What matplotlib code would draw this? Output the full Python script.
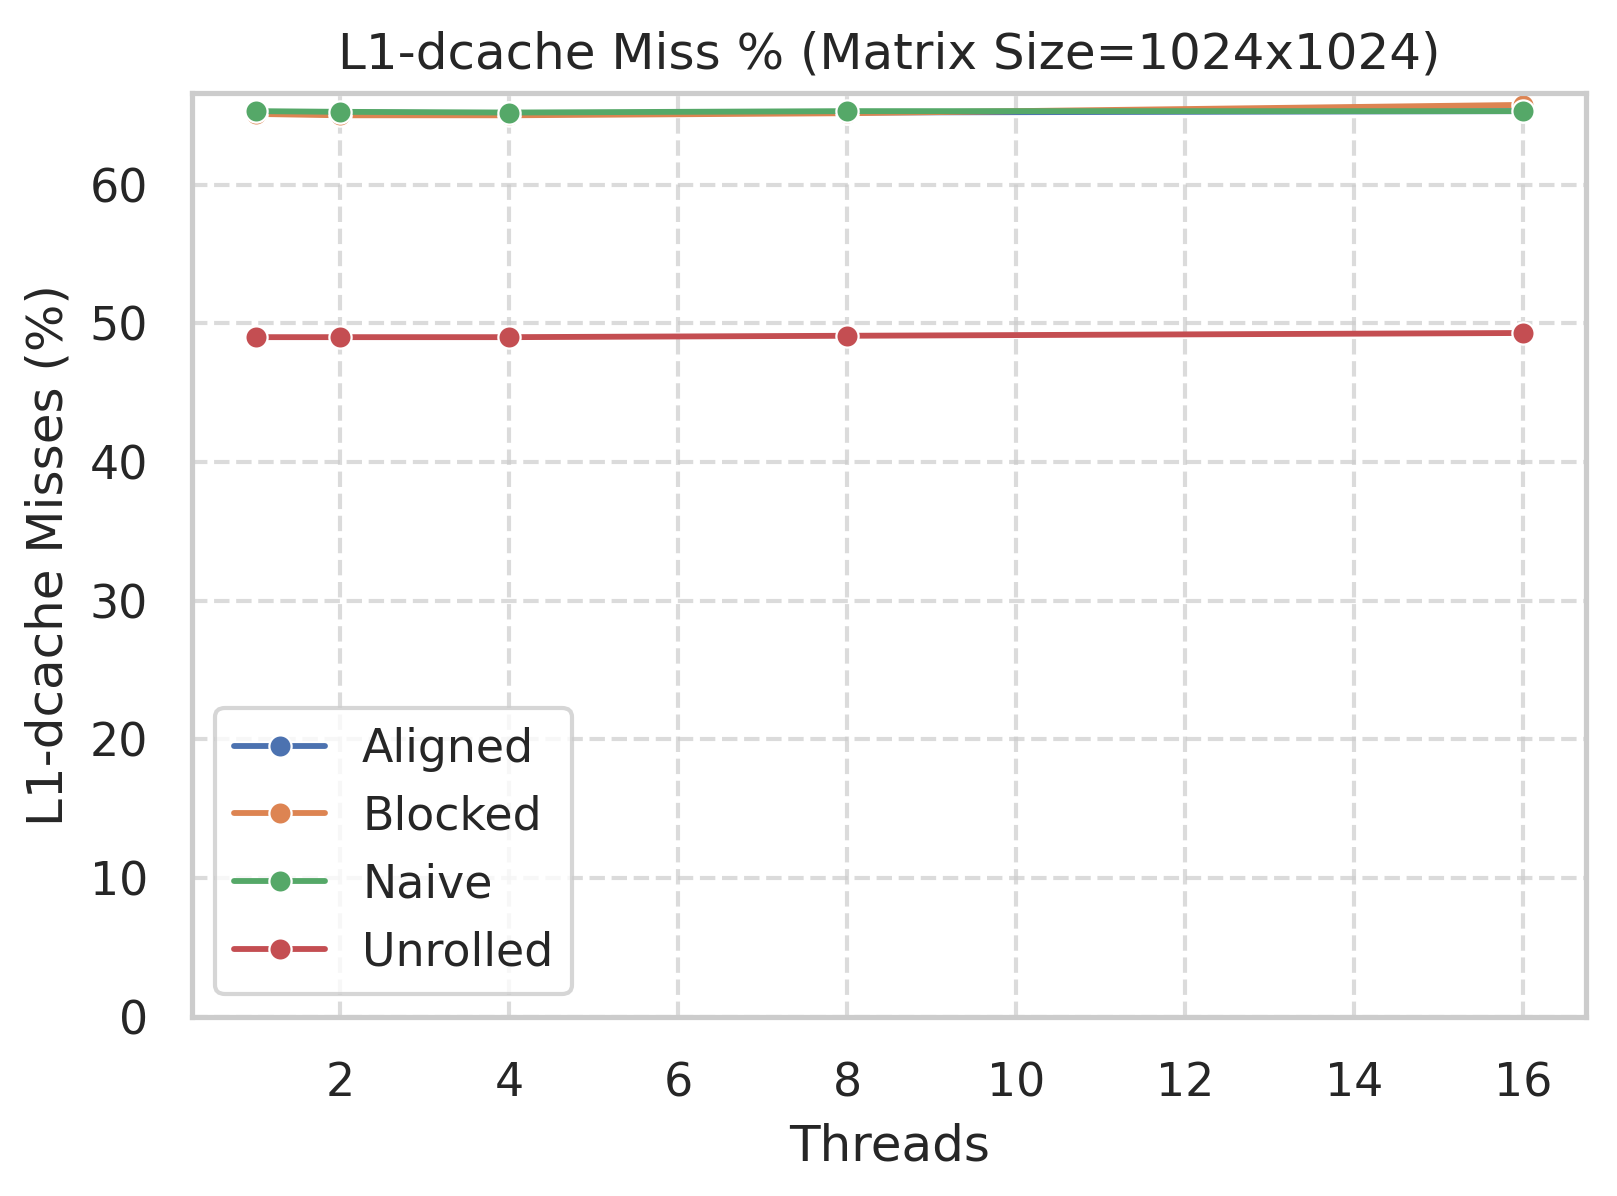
import matplotlib
matplotlib.use("Agg")
import matplotlib.pyplot as plt
import seaborn as sns

threads = [1, 2, 4, 8, 16]
aligned = [65.25, 65.2, 65.15, 65.2, 65.3]
blocked = [65.1, 65.0, 65.0, 65.15, 65.75]
naive = [65.3, 65.25, 65.2, 65.3, 65.3]
unrolled = [49.0, 49.0, 49.0, 49.1, 49.3]

series = {
    "Aligned": aligned,
    "Blocked": blocked,
    "Naive": naive,
    "Unrolled": unrolled,
}

sns.set_theme(style="whitegrid", context="talk")
plt.rcParams["font.family"] = ["DejaVu Sans"]

fig, ax = plt.subplots(figsize=(8.085, 5.98), dpi=200)
fig.subplots_adjust(left=0.119, right=0.981, top=0.922, bottom=0.150)

palette = sns.color_palette("deep")
for i, (name, vals) in enumerate(series.items()):
    ax.plot(threads, vals, marker="o", markersize=8, linewidth=2.1,
            color=palette[i], markeredgecolor="white", markeredgewidth=0.8,
            label=name)

ax.set_ylim(bottom=0)
ax.set_title("L1-dcache Miss % (Matrix Size=1024x1024)", pad=9)
ax.set_xlabel("Threads", labelpad=6)
ax.set_ylabel("L1-dcache Misses (%)", labelpad=6)
ax.tick_params(axis="both", pad=7)
ax.grid(True, linestyle="--", alpha=0.7)
ax.legend(loc="lower left")

fig.savefig("out.png", dpi=200)
